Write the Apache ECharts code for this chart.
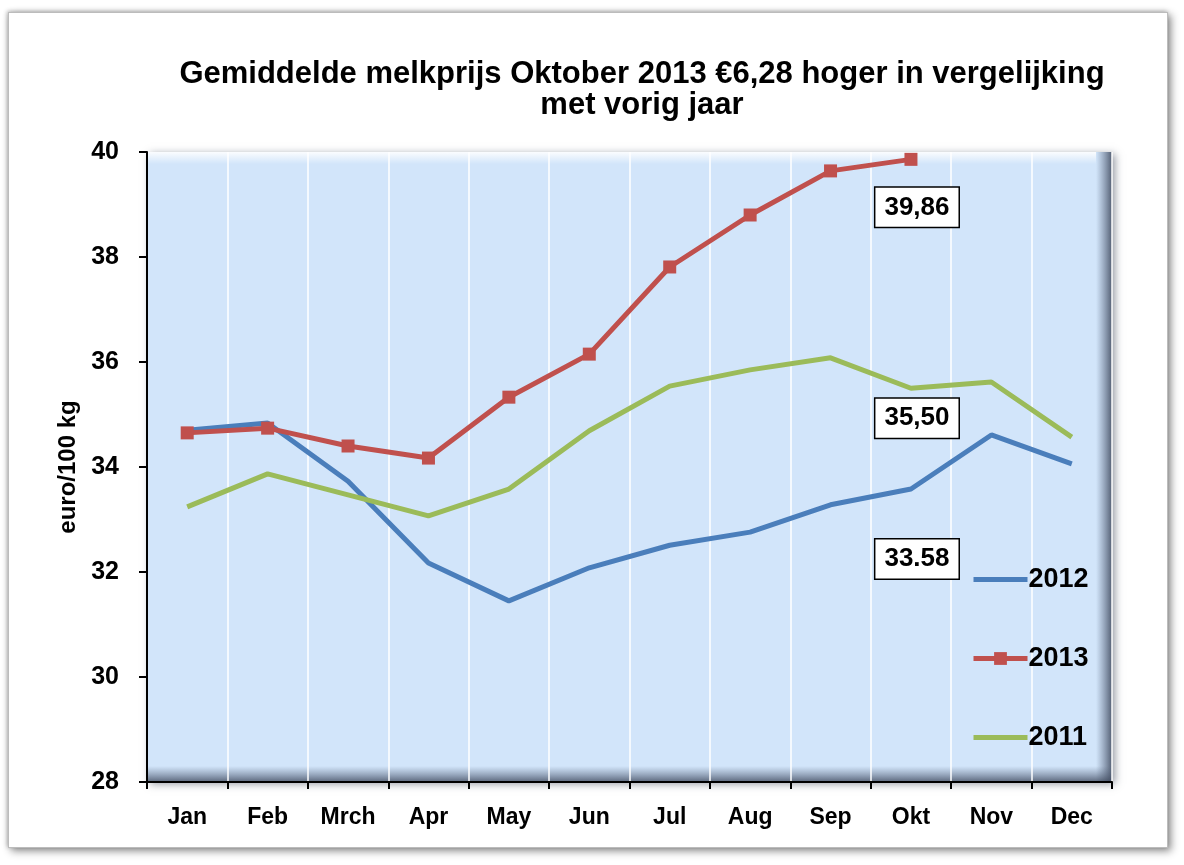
<!DOCTYPE html>
<html>
<head>
<meta charset="utf-8">
<script src="https://cdn.jsdelivr.net/npm/echarts@6/dist/echarts.min.js"></script>
<style>
  html, body { margin: 0; padding: 0; background: #fff; }
  #frame {
    position: absolute; left: 8px; top: 12px; width: 1158px; height: 834px;
    border: 1px solid #bcbcbc; box-shadow: 3px 3px 8px rgba(0,0,0,0.45), -1px -1px 4px rgba(0,0,0,0.25);
    background: #fff;
  }
  #chart { position: absolute; left: 0; top: 0; width: 1184px; height: 865px; }
</style>
</head>
<body>
<div id="frame"></div>
<div id="chart"></div>
<script>
const months = ['Jan', 'Feb', 'Mrch', 'Apr', 'May', 'Jun', 'Jul', 'Aug', 'Sep', 'Okt', 'Nov', 'Dec'];
const s2012 = [34.70, 34.84, 33.73, 32.17, 31.45, 32.08, 32.51, 32.76, 33.28, 33.58, 34.61, 34.06];
const s2013 = [34.65, 34.74, 34.40, 34.17, 35.33, 36.15, 37.81, 38.80, 39.64, 39.86];
const s2011 = [33.24, 33.87, 33.47, 33.07, 33.58, 34.69, 35.54, 35.85, 36.08, 35.50, 35.62, 34.57];
const yTicks = { min: 28, max: 40, interval: 2 };

const font = 'Liberation Sans, Arial, sans-serif';
const chart = echarts.init(document.getElementById('chart'), null, { renderer: 'canvas' });

// plain line icon for the legend (tiny corner specks keep the box 54x16)
const lineIcon = 'path://M0,0 L0.05,0 L0.05,0.05 Z M0,5.5 L54,5.5 L54,10.5 L0,10.5 Z M54,16 L53.95,16 L53.95,15.95 Z';

const boxLabel = (text, off) => ({
  show: true,
  position: 'inside',
  offset: off,
  formatter: text,
  color: '#000',
  fontFamily: font,
  fontWeight: 'bold',
  fontSize: 26,
  lineHeight: 28,
  backgroundColor: '#fff',
  borderColor: '#000',
  borderWidth: 1.5,
  padding: [6, 9, 5, 9]
});

const okt = months.indexOf('Okt');
const markAt = (vals, text, off) => ({
  symbol: 'rect',
  symbolSize: 1,
  itemStyle: { color: 'rgba(0,0,0,0)' },
  silent: true,
  data: [{ coord: ['Okt', vals[okt]], label: boxLabel(text, off) }]
});

const G = { left: 147, right: 1112, top: 152, bottom: 782 };

const option = {
  animation: false,
  title: {
    text: 'Gemiddelde melkprijs Oktober 2013 €6,28 hoger in vergelijking\nmet vorig jaar',
    left: 637,
    top: 54,
    textAlign: 'center',
    textStyle: { fontFamily: font, fontWeight: 'bold', fontSize: 31, lineHeight: 31, color: '#000' }
  },
  legend: {
    data: [
      { name: '2012', icon: lineIcon },
      { name: '2013', lineStyle: { width: 5 } },
      { name: '2011', icon: lineIcon }
    ],
    orient: 'vertical',
    left: 966,
    top: 561,
    itemWidth: 54,
    itemHeight: 16,
    itemGap: 52,
    textStyle: { fontFamily: font, fontWeight: 'bold', fontSize: 27, color: '#000', padding: [0, 0, 0, -4] }
  },
  grid: {
    left: G.left, right: 1184 - G.right, top: G.top, bottom: 865 - G.bottom,
    show: true,
    backgroundColor: '#d2e5fa',
    borderWidth: 0,
    shadowColor: 'rgba(40,50,70,0.5)',
    shadowBlur: 8,
    shadowOffsetX: 3,
    shadowOffsetY: 2
  },
  graphic: [
    {
      type: 'rect', silent: true, z: 0,
      shape: { x: G.right - 16, y: G.top, width: 16, height: G.bottom - G.top },
      style: { fill: new echarts.graphic.LinearGradient(0, 0, 1, 0, [
        { offset: 0, color: 'rgba(90,105,130,0)' }, { offset: 1, color: 'rgba(60,70,90,0.85)' }]) }
    },
    {
      type: 'rect', silent: true, z: 0,
      shape: { x: G.left, y: G.bottom - 16, width: G.right - G.left, height: 16 },
      style: { fill: new echarts.graphic.LinearGradient(0, 0, 0, 1, [
        { offset: 0, color: 'rgba(90,105,130,0)' }, { offset: 1, color: 'rgba(60,70,90,0.8)' }]) }
    },
    {
      type: 'rect', silent: true, z: 0,
      shape: { x: G.left, y: G.top, width: G.right - G.left - 16, height: 12 },
      style: { fill: new echarts.graphic.LinearGradient(0, 0, 0, 1, [
        { offset: 0, color: 'rgba(255,255,255,0.9)' }, { offset: 1, color: 'rgba(255,255,255,0)' }]) }
    }
  ],
  xAxis: {
    type: 'category',
    data: months,
    boundaryGap: true,
    axisLine: { lineStyle: { color: '#000', width: 2 } },
    axisTick: { show: true, interval: 0, length: 7, lineStyle: { color: '#000', width: 2 } },
    axisLabel: { interval: 0, margin: 24, fontFamily: font, fontWeight: 'bold', fontSize: 23, color: '#000' },
    splitLine: { show: true, interval: 0, lineStyle: { color: '#ffffff', width: 1.5 } }
  },
  yAxis: {
    type: 'value',
    min: yTicks.min,
    max: yTicks.max,
    interval: yTicks.interval,
    name: 'euro/100 kg',
    nameLocation: 'middle',
    nameGap: 64,
    nameTextStyle: { fontFamily: font, fontWeight: 'bold', fontSize: 24, color: '#000' },
    axisLine: { show: true, lineStyle: { color: '#000', width: 2 } },
    axisTick: { show: true, length: 8, lineStyle: { color: '#000', width: 2 } },
    axisLabel: { margin: 28, fontFamily: font, fontWeight: 'bold', fontSize: 25, color: '#000' },
    splitLine: { show: false }
  },
  series: [
    {
      name: '2012',
      type: 'line',
      data: s2012,
      showSymbol: false,
      symbol: 'none',
      color: '#4a7ebb',
      lineStyle: { width: 5, color: '#4a7ebb' },
      markPoint: markAt(s2012, '33.58', [6, 70])
    },
    {
      name: '2013',
      type: 'line',
      data: s2013,
      symbol: 'rect',
      symbolSize: 13,
      color: '#c0504d',
      itemStyle: { color: '#c0504d' },
      lineStyle: { width: 5, color: '#c0504d' },
      z: 3,
      markPoint: markAt(s2013, '39,86', [6, 48])
    },
    {
      name: '2011',
      type: 'line',
      data: s2011,
      showSymbol: false,
      symbol: 'none',
      color: '#9bbb59',
      lineStyle: { width: 5, color: '#9bbb59' },
      markPoint: markAt(s2011, '35,50', [6, 30])
    }
  ]
};

chart.setOption(option);
</script>
</body>
</html>
